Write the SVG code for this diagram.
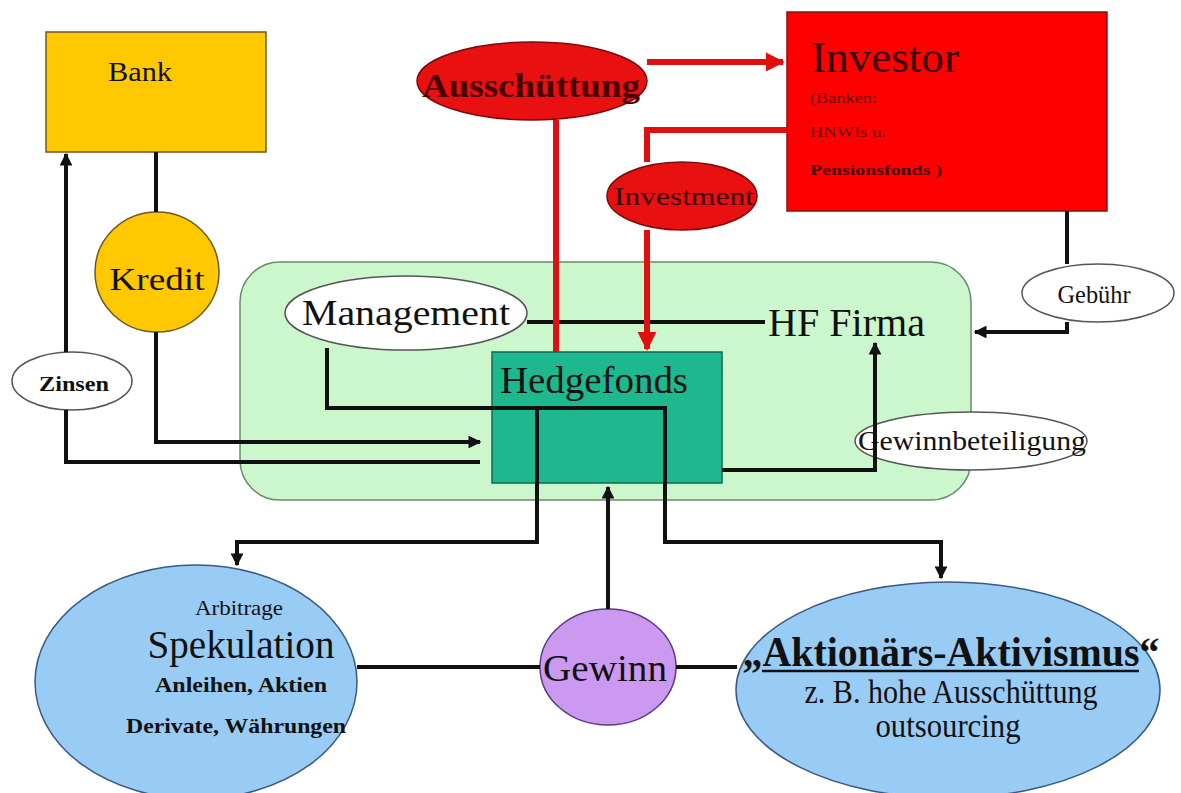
<svg xmlns="http://www.w3.org/2000/svg" width="1181" height="793" viewBox="0 0 1181 793">
<defs>
<style>
.t{font-family:"Liberation Serif","Times New Roman",serif;fill:#111;}
.c{text-anchor:middle;}
.b{font-weight:bold;}
.ln{fill:none;stroke:#111;stroke-width:4;}
.rl{fill:none;stroke:#E01010;stroke-width:6;}
.wh{fill:#fff;stroke:#555;stroke-width:1.5;}
</style>
<marker id="ah" viewBox="0 0 10 10" refX="9" refY="5" markerWidth="3.2" markerHeight="3.2" orient="auto" markerUnits="strokeWidth"><path d="M0,0 L10,5 L0,10 z" fill="#111"/></marker>
<marker id="rah" viewBox="0 0 10 10" refX="9" refY="5" markerWidth="3.2" markerHeight="3.2" orient="auto" markerUnits="strokeWidth"><path d="M0,0 L10,5 L0,10 z" fill="#E01010"/></marker>
</defs>
<rect width="1181" height="793" fill="#fff"/>

<g id="hf-firma-area">
<rect x="240" y="262" width="731" height="238" rx="40" fill="#CCF7CC" stroke="#6a8a6a" stroke-width="1.5"/>
</g>

<g id="bank">
<rect x="46" y="32" width="220" height="120" fill="#FFC800" stroke="#6b5a20" stroke-width="1.5"/>
<text class="t c" x="140" y="81" font-size="27" textLength="64" lengthAdjust="spacingAndGlyphs">Bank</text>
</g>

<g id="kredit">
<ellipse cx="157" cy="272" rx="62" ry="60" fill="#FFC800" stroke="#6b5a20" stroke-width="1.5"/>
<text class="t c" x="157" y="290" font-size="31" textLength="95" lengthAdjust="spacingAndGlyphs">Kredit</text>
</g>

<g id="zinsen">
<ellipse class="wh" cx="72" cy="381" rx="60" ry="29"/>
<text class="t c b" x="74" y="391" font-size="21" textLength="70" lengthAdjust="spacingAndGlyphs">Zinsen</text>
</g>

<g id="investor">
<rect x="787" y="12" width="320" height="199" fill="#FF0000" stroke="#8a1010" stroke-width="1.5"/>
<text class="t" x="811" y="72" font-size="45" textLength="148" lengthAdjust="spacingAndGlyphs" style="fill:#3a0000">Investor</text>
<text class="t" x="810" y="103" font-size="14" textLength="67" lengthAdjust="spacingAndGlyphs" style="fill:#6a0000">(Banken:</text>
<text class="t" x="810" y="137" font-size="14" textLength="76" lengthAdjust="spacingAndGlyphs" style="fill:#6a0000">HNWIs u.</text>
<text class="t b" x="810" y="175" font-size="15" textLength="132" lengthAdjust="spacingAndGlyphs" style="fill:#4a0000">Pensionsfonds )</text>
</g>

<g id="ausschuettung">
<ellipse cx="532" cy="81" rx="115" ry="39" fill="#E81010" stroke="#7a0a0a" stroke-width="1.5"/>
<text class="t c b" x="531" y="97" font-size="34" textLength="218" lengthAdjust="spacingAndGlyphs" style="fill:#4a0000">Ausschüttung</text>
</g>

<g id="investment">
<ellipse cx="682" cy="196" rx="75" ry="34" fill="#E81010" stroke="#7a0a0a" stroke-width="1.5"/>
<text class="t c" x="684" y="205" font-size="25" textLength="140" lengthAdjust="spacingAndGlyphs" style="fill:#3a0000">Investment</text>
</g>

<g id="management">
<ellipse class="wh" cx="406" cy="313" rx="121" ry="37"/>
<text class="t c" x="406" y="325" font-size="36" textLength="208" lengthAdjust="spacingAndGlyphs">Management</text>
</g>

<g id="hf-firma">
<text class="t" x="768" y="336" font-size="40" textLength="157" lengthAdjust="spacingAndGlyphs">HF Firma</text>
</g>

<g id="hedgefonds">
<rect x="492" y="352" width="230" height="131" fill="#1DB88E" stroke="#0f6a50" stroke-width="1.5"/>
<text class="t" x="500" y="393" font-size="37" textLength="188" lengthAdjust="spacingAndGlyphs">Hedgefonds</text>
</g>

<g id="gebuehr">
<ellipse class="wh" cx="1098" cy="293" rx="76" ry="29"/>
<text class="t c" x="1094" y="303" font-size="26" textLength="73" lengthAdjust="spacingAndGlyphs">Gebühr</text>
</g>

<g id="gewinnbeteiligung">
<ellipse class="wh" cx="971" cy="441" rx="116" ry="29"/>
<text class="t c" x="972" y="450" font-size="27" textLength="228" lengthAdjust="spacingAndGlyphs">Gewinnbeteiligung</text>
</g>

<g id="spekulation">
<ellipse cx="196" cy="682" rx="161" ry="117" fill="#99CCF5" stroke="#3a5a80" stroke-width="1.5"/>
<text class="t c" x="239" y="615" font-size="21" textLength="88" lengthAdjust="spacingAndGlyphs">Arbitrage</text>
<text class="t c" x="241" y="658" font-size="40" textLength="187" lengthAdjust="spacingAndGlyphs">Spekulation</text>
<text class="t c b" x="241" y="692" font-size="21" textLength="172" lengthAdjust="spacingAndGlyphs">Anleihen, Aktien</text>
<text class="t c b" x="236" y="733" font-size="21" textLength="220" lengthAdjust="spacingAndGlyphs">Derivate, Währungen</text>
</g>

<g id="gewinn">
<ellipse cx="608" cy="667" rx="68" ry="58" fill="#CC99F0" stroke="#5a3a80" stroke-width="1.5"/>
<text class="t c" x="605" y="681" font-size="37" textLength="124" lengthAdjust="spacingAndGlyphs">Gewinn</text>
</g>

<g id="aktionaers-aktivismus">
<ellipse cx="948" cy="690" rx="212" ry="108" fill="#99CCF5" stroke="#3a5a80" stroke-width="1.5"/>
<text class="t c b" x="951" y="666" font-size="42" textLength="417" lengthAdjust="spacingAndGlyphs">„Aktionärs-Aktivismus“</text>
<line x1="762" y1="671" x2="1139" y2="671" stroke="#111" stroke-width="2.5"/>
<text class="t c" x="951" y="703" font-size="34" textLength="293" lengthAdjust="spacingAndGlyphs">z. B. hohe Ausschüttung</text>
<text class="t c" x="948" y="737" font-size="34" textLength="145" lengthAdjust="spacingAndGlyphs">outsourcing</text>
</g>

<g id="connectors">
<path class="ln" d="M156,152 V212"/>
<path class="ln" d="M156,332 V442 H480" marker-end="url(#ah)"/>
<path class="ln" d="M480,462 H66 V410"/>
<path class="ln" d="M66,352 V154" marker-end="url(#ah)"/>
<path class="ln" d="M527,322 H765"/>
<path class="ln" d="M327,348 V408 H665 V542 H941 V578" marker-end="url(#ah)"/>
<path class="ln" d="M537,408 V542 H237 V565" marker-end="url(#ah)"/>
<path class="ln" d="M608,609 V487" marker-end="url(#ah)"/>
<path class="ln" d="M722,470 H875 V343" marker-end="url(#ah)"/>
<path class="ln" d="M1067,211 V264"/>
<path class="ln" d="M1067,322 V332 H975" marker-end="url(#ah)"/>
<path class="ln" d="M357,667 H540"/>
<path class="ln" d="M676,667 H737"/>
<path class="rl" d="M556,120 V352"/>
<path class="rl" d="M647,62 H783" marker-end="url(#rah)"/>
<path class="rl" d="M787,130 H647 V162"/>
<path class="rl" d="M647,230 V349" marker-end="url(#rah)"/>
</g>
</svg>
